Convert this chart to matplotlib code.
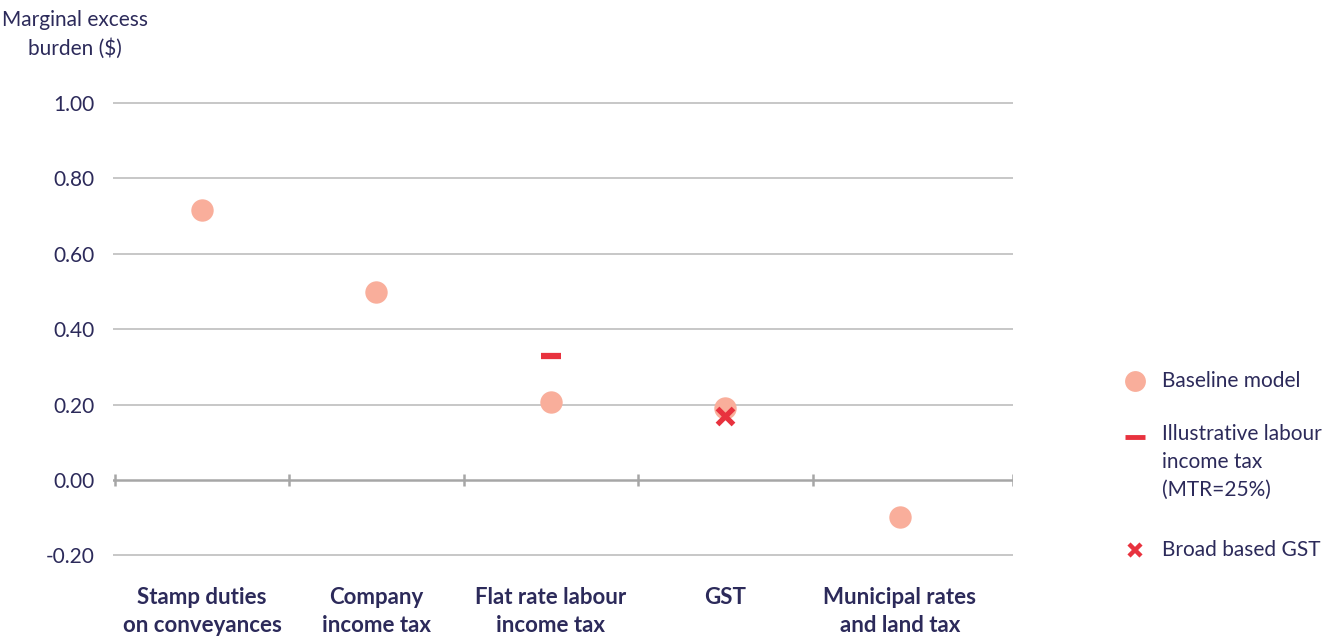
import matplotlib.pyplot as plt
from matplotlib.lines import Line2D

categories = ["Stamp duties\non conveyances", "Company\nincome tax",
              "Flat rate labour\nincome tax", "GST",
              "Municipal rates\nand land tax"]
baseline = [0.715, 0.499, 0.207, 0.191, -0.098]
labour_idx = 2
labour_mtr25 = 0.329
gst_idx = 3
gst_broad = 0.170
yticks = [-0.20, 0.00, 0.20, 0.40, 0.60, 0.80, 1.00]

navy = "#2c2a5a"
salmon = "#f9ae9b"
red = "#e8323e"

plt.rcParams['font.family'] = ['Lato', 'DejaVu Sans']

W, H = 1332, 638
fig = plt.figure(figsize=(W / 100, H / 100), dpi=100)
ax = fig.add_axes([113 / W, 1 - 574.25 / H, 900 / W, (574.25 - 95.5) / H])

x = list(range(len(categories)))
ax.set_xlim(-0.51, 4.648)
ax.set_ylim(-0.25, 1.02)

# gridlines
for v in yticks:
    if v == 0:
        ax.axhline(v, color="#a6a6a6", lw=1.8, zorder=1)
    else:
        ax.axhline(v, color="#bdbdbd", lw=1.2, zorder=1)
# little category separators on the zero line
for b in [-0.5, 0.5, 1.5, 2.5, 3.5, 4.648]:
    ax.vlines(b, -0.017, 0.017, color="#a6a6a6", lw=1.8, zorder=1)

ax.scatter(x, baseline, s=260, color=salmon, zorder=3, linewidths=0)
ax.plot([labour_idx], [labour_mtr25], ls="none", marker="_", ms=14.5, mew=4.5,
        color=red, zorder=4)
ax.plot([gst_idx], [gst_broad], ls="none", marker="x", ms=11, mew=3.8,
        color=red, zorder=4)

for s in ax.spines.values():
    s.set_visible(False)

ax.set_yticks(yticks)
ax.set_yticklabels([f"{v:.2f}" for v in yticks])
ax.tick_params(axis="y", length=0, pad=13, labelsize=15, labelcolor=navy)
ax.set_xticks(x)
ax.set_xticklabels(categories, fontweight="bold")
ax.tick_params(axis="x", length=0, pad=9, labelsize=16, labelcolor=navy)
for t in ax.get_xticklabels():
    t.set_linespacing(1.45)

fig.text(75 / W, 1 - 34 / H, "Marginal excess\nburden ($)", ha="center", va="center",
         fontsize=15, color=navy, linespacing=1.5)

# legend, built by hand so the dash lines up with the first text line
hx, tx = 1135 / W, 1162 / W
fig.add_artist(Line2D([hx], [1 - 381 / H], transform=fig.transFigure, ls="none",
                      marker="o", ms=15, mew=0, color=salmon))
fig.text(tx, 1 - 381 / H, "Baseline model", va="center", fontsize=15, color=navy)
fig.add_artist(Line2D([hx], [1 - 437 / H], transform=fig.transFigure, ls="none",
                      marker="_", ms=14, mew=3.5, color=red))
fig.text(tx, 1 - 424 / H, "Illustrative labour\nincome tax\n(MTR=25%)", va="top",
         fontsize=15, color=navy, linespacing=1.5)
fig.add_artist(Line2D([hx], [1 - 550 / H], transform=fig.transFigure, ls="none",
                      marker="x", ms=8, mew=3.2, color=red))
fig.text(tx, 1 - 550 / H, "Broad based GST", va="center", fontsize=15, color=navy)

fig.savefig("out.png", dpi=100)
